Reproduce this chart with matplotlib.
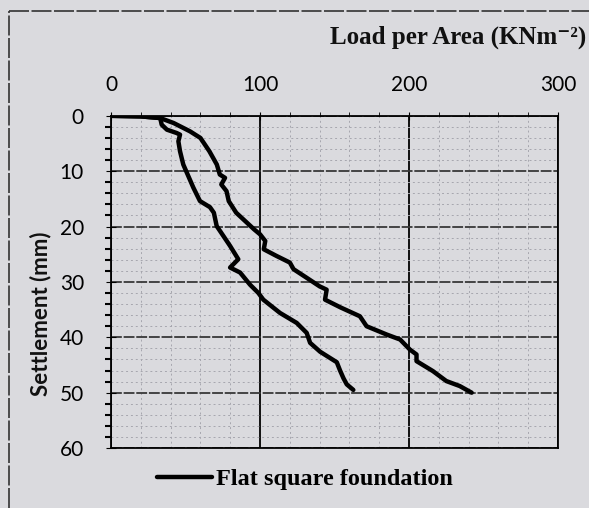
import matplotlib.pyplot as plt
from matplotlib.lines import Line2D
from matplotlib.ticker import MultipleLocator

# data (load in kN/m2, settlement in mm)
load_a = [0, 20, 33, 42, 53, 60, 66, 71, 73, 76.5, 74, 77.5, 79, 84, 90, 96,
          100, 103.5, 102.5, 111, 120, 122.5, 131, 140, 144.7, 143.6, 154, 167,
          171.5, 185, 194, 200.5, 205, 205, 216, 225, 234, 242]
settle_a = [0, 0.1, 0.4, 1.3, 2.8, 4.0, 6.4, 8.8, 10.6, 11.2, 12.4, 13.6, 15.4,
            17.5, 19.0, 20.5, 21.4, 22.6, 24.1, 25.3, 26.5, 27.7, 29.2, 30.8,
            31.4, 33.2, 34.6, 36.2, 38.0, 39.5, 40.4, 42.2, 43.1, 44.3, 46.1,
            47.9, 48.8, 50]

load_b = [0, 20, 33, 34, 37.5, 44, 46.3, 45.2, 46.3, 48.5, 51.9, 55.3, 59.7,
          66.4, 69, 70.9, 75.4, 79.9, 85.4, 79.9, 86.6, 93.3, 98.9, 102.2, 113.4,
          124.6, 131.3, 133.6, 140.3, 145, 151.5, 153.7, 156, 158.2, 162.6]
settle_b = [0, 0.1, 0.4, 1.6, 2.5, 3.1, 3.4, 4.6, 6.4, 8.8, 10.9, 13.0, 15.4,
            16.5, 17.5, 19.9, 21.7, 23.5, 25.9, 27.4, 28.3, 30.5, 32.0, 33.2,
            35.6, 37.4, 39.2, 41.0, 42.6, 43.4, 44.5, 46.0, 47.4, 48.5, 49.5]

x_ticks = [0, 100, 200, 300]
y_ticks = [0, 10, 20, 30, 40, 50, 60]

bg = '#dadade'
serif = ['Liberation Serif', 'DejaVu Serif']
sans = ['Lato', 'DejaVu Sans']

fig = plt.figure(figsize=(5.89, 5.08), dpi=100, facecolor=bg)
ax = fig.add_axes([0.1885, 0.118, 0.759, 0.654], facecolor=bg)

ax.plot(load_a, settle_a, color='black', lw=3.2, solid_joinstyle='round',
        solid_capstyle='round', label='Flat square foundation')
ax.plot(load_b, settle_b, color='black', lw=3.2, solid_joinstyle='round',
        solid_capstyle='round')

ax.set_xlim(0, 300)
ax.set_ylim(60, 0)
ax.xaxis.tick_top()
ax.set_xticks(x_ticks)
ax.set_yticks(y_ticks)
ax.xaxis.set_minor_locator(MultipleLocator(20))
ax.yaxis.set_minor_locator(MultipleLocator(2))

# graph paper look
ax.xaxis.grid(True, which='major', color='black', lw=1.3)
ax.yaxis.grid(True, which='major', color='#383838', lw=1.3, ls=(0, (6, 1)))
ax.grid(True, which='minor', color='#a6a6ae', lw=0.7, ls=(0, (2, 3)))
ax.set_axisbelow(True)

for s in ax.spines.values():
    s.set_color('black')
    s.set_linewidth(1.3)

ax.tick_params(axis='x', which='major', direction='inout', length=6, pad=12,
               labelsize=15, colors='black')
ax.tick_params(axis='x', which='minor', direction='out', length=3)
ax.tick_params(axis='y', which='major', direction='inout', length=7, pad=16,
               labelsize=15, colors='black')
ax.tick_params(axis='y', which='minor', direction='out', length=4, width=1.5)
for lab in ax.get_xticklabels() + ax.get_yticklabels():
    lab.set_family(sans)

fig.text(586 / 589, 1 - 37 / 508, 'Load per Area (KNm\u207b\u00b2)',
         ha='right', va='center', fontsize=18, fontweight='bold',
         family=serif, color='#111111')
fig.text(41 / 589, 1 - 314 / 508, 'Settlement (mm)', rotation=90,
         ha='center', va='center', fontsize=16, fontweight='bold',
         family=sans, color='#111111')

fig.legend(handles=[ax.lines[0]], loc='center', bbox_to_anchor=(0.518, 0.057),
           frameon=False, handlelength=2.26, handletextpad=0.16,
           prop={'family': serif, 'weight': 'bold', 'size': 17.5})

# scanned page frame
fig.add_artist(Line2D([9 / 589, 9 / 589], [0, 1 - 11 / 508], color='#333333',
                      lw=1.2, ls=(0, (12, 1.5))))
fig.add_artist(Line2D([9 / 589, 1], [1 - 11 / 508, 1 - 11 / 508],
                      color='#333333', lw=1.2, ls=(0, (12, 1.5))))

fig.savefig('out.png', dpi=100, facecolor=bg)
